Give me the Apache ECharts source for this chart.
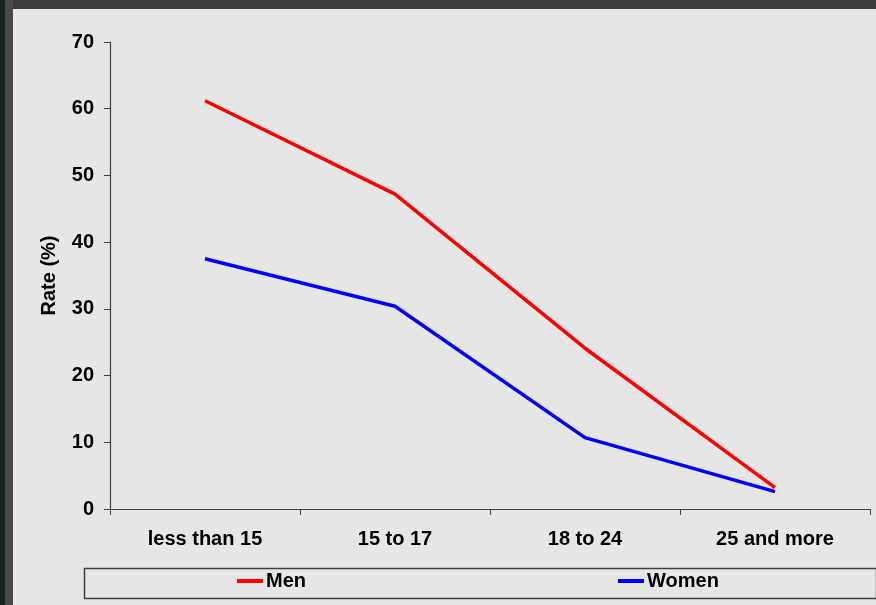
<!DOCTYPE html>
<html>
<head>
<meta charset="utf-8">
<script src="https://cdn.jsdelivr.net/npm/echarts@6/dist/echarts.min.js"></script>
<style>
html,body{margin:0;padding:0;background:#e6e6e6;}
#c{width:876px;height:605px;}
</style>
</head>
<body>
<div id="c"></div>
<script>
var categories = ['less than 15', '15 to 17', '18 to 24', '25 and more'];
var menValues = [61.2, 47.2, 24.1, 3.2];
var womenValues = [37.5, 30.4, 10.7, 2.6];
var yTicks = [0, 10, 20, 30, 40, 50, 60, 70];

var chart = echarts.init(document.getElementById('c'));
var font = 'Liberation Sans, Arial, sans-serif';
chart.setOption({
  backgroundColor: '#e6e6e6',
  animation: false,
  graphic: [
    {type: 'rect', left: 0, top: 0, shape: {width: 876, height: 9}, style: {fill: '#3c3e3e'}, z: 10},
    {type: 'rect', left: 0, top: 0, shape: {width: 13, height: 605}, style: {fill: '#4a4a4a'}, z: 10},
    {type: 'rect', left: 0, top: 0, shape: {width: 5, height: 605}, style: {fill: '#1a2226'}, z: 11},
    {type: 'rect', left: 82, top: 566, shape: {width: 792, height: 30}, style: {fill: 'none', stroke: '#404040', lineWidth: 1.5}, z: 1}
  ],
  grid: {left: 110, right: 6, top: 42, bottom: 96, containLabel: false},
  legend: [
    {data: ['Men'], left: 237, top: 571, padding: 0, icon: 'rect', itemWidth: 26, itemHeight: 4, itemGap: 4,
     textStyle: {fontFamily: font, fontWeight: 'bold', fontSize: 20, color: '#000', padding: [0, 0, 0, -2]}},
    {data: ['Women'], left: 618, top: 571, padding: 0, icon: 'rect', itemWidth: 26, itemHeight: 4, itemGap: 4,
     textStyle: {fontFamily: font, fontWeight: 'bold', fontSize: 20, color: '#000', padding: [0, 0, 0, -2]}}
  ],
  xAxis: {
    type: 'category',
    data: categories,
    boundaryGap: true,
    axisLine: {lineStyle: {color: '#404040', width: 1.2}},
    axisTick: {show: true, length: 6, inside: false, lineStyle: {color: '#404040'}},
    axisLabel: {fontFamily: font, fontWeight: 'bold', fontSize: 20, color: '#000', margin: 20}
  },
  yAxis: {
    type: 'value',
    min: yTicks[0], max: yTicks[yTicks.length - 1], interval: 10,
    name: 'Rate (%)',
    nameLocation: 'middle',
    nameGap: 51,
    nameRotate: 90,
    nameTextStyle: {fontFamily: font, fontWeight: 'bold', fontSize: 20, color: '#000'},
    axisLine: {show: true, lineStyle: {color: '#404040', width: 1.2}},
    axisTick: {show: true, length: 6, lineStyle: {color: '#404040'}},
    splitLine: {show: false},
    axisLabel: {fontFamily: font, fontWeight: 'bold', fontSize: 20, color: '#000', margin: 16}
  },
  series: [
    {name: 'Men', type: 'line', data: menValues, symbol: 'none', color: '#ff0000',
     lineStyle: {color: '#ff0000', width: 3.5}},
    {name: 'Women', type: 'line', data: womenValues, symbol: 'none', color: '#0000ff',
     lineStyle: {color: '#0000ff', width: 3.5}}
  ]
});
</script>
</body>
</html>
